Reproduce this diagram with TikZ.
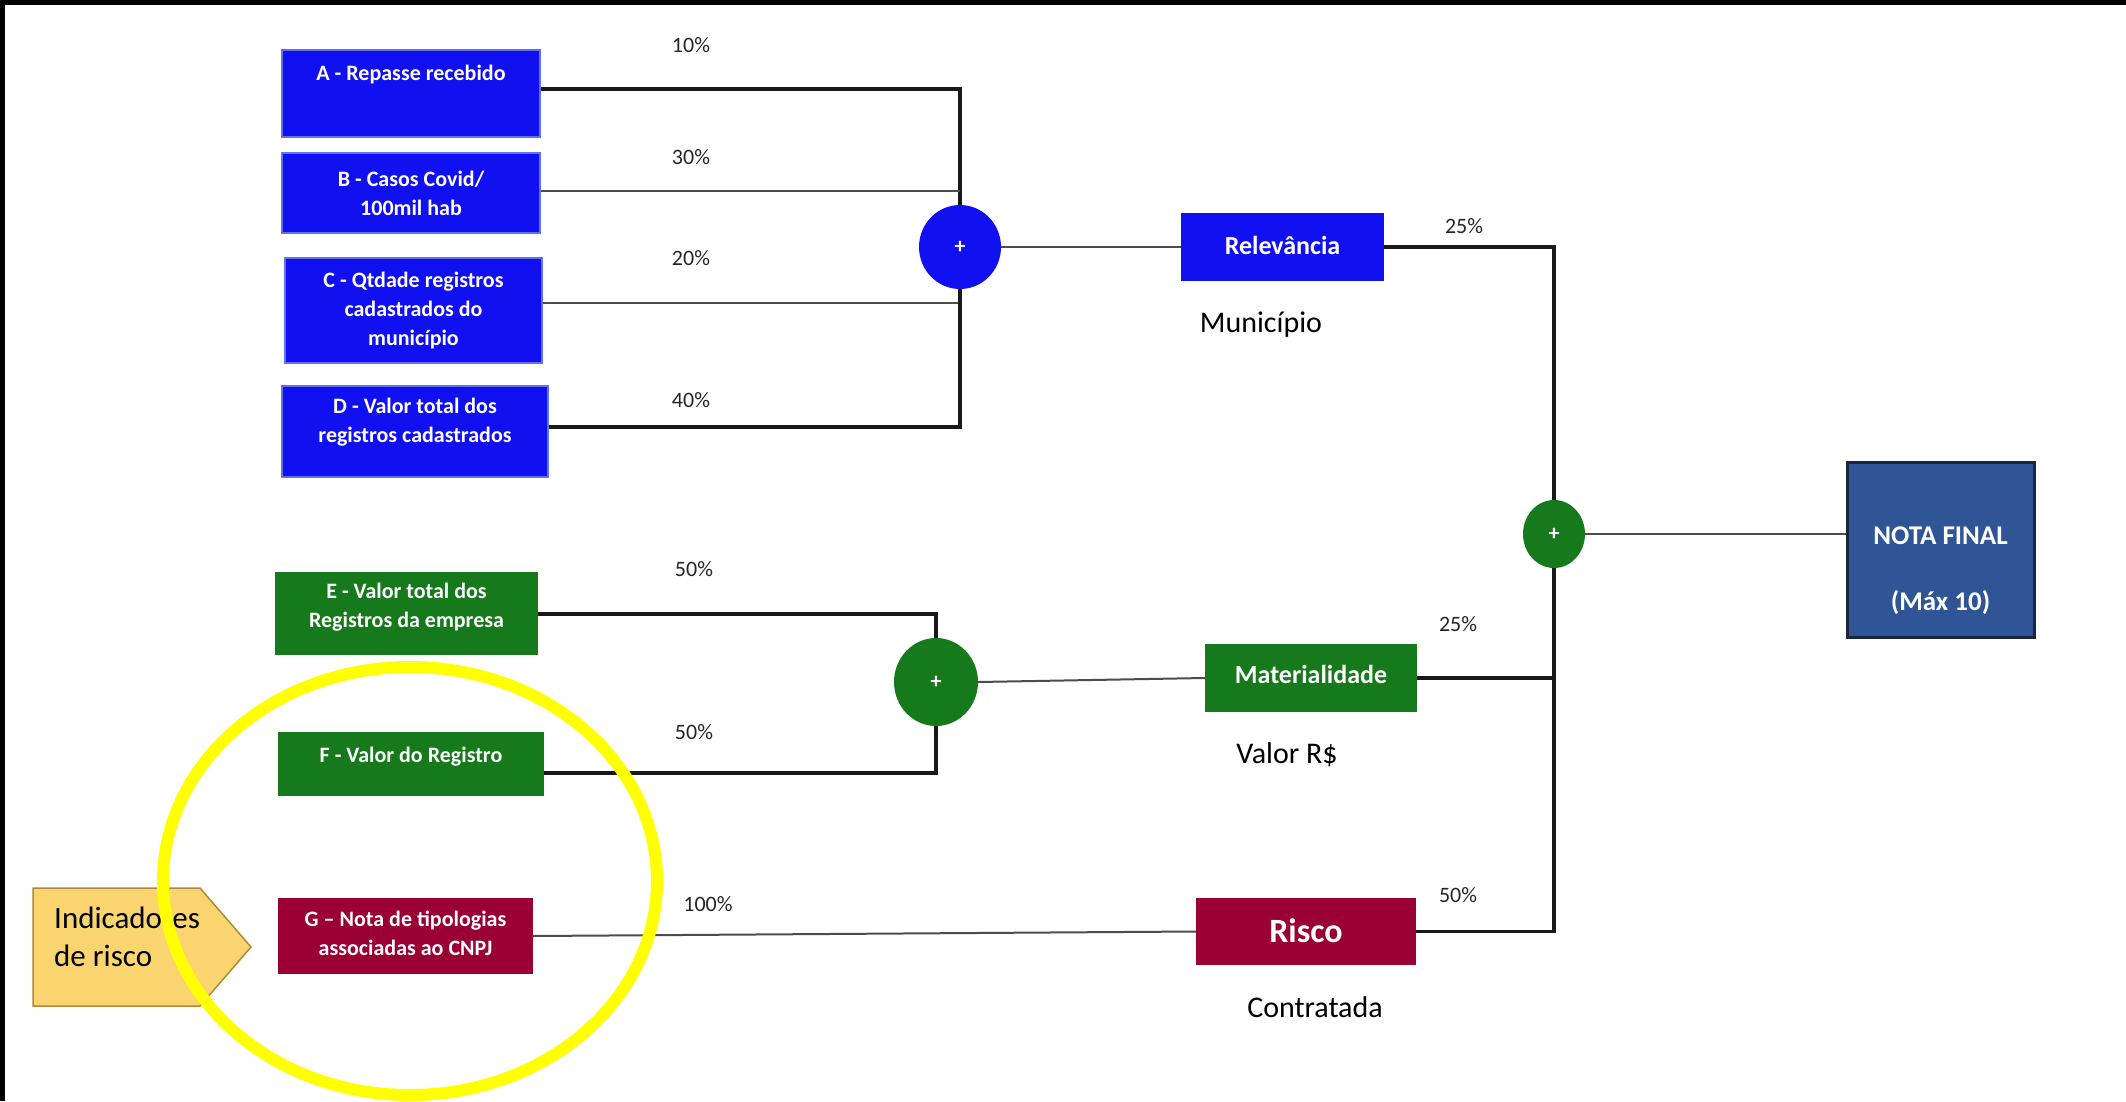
\documentclass[tikz,border=0pt]{standalone}
\usepackage{fontspec}
\setmainfont{Carlito}
\usetikzlibrary{shapes.geometric}
\definecolor{myblue}{RGB}{16,16,240}
\definecolor{myblueedge}{RGB}{95,115,240}
\definecolor{mygreen}{RGB}{22,122,28}
\definecolor{myred}{RGB}{155,0,52}
\definecolor{notablue}{RGB}{47,85,151}
\definecolor{notaedge}{RGB}{28,36,60}
\definecolor{pentfill}{RGB}{250,212,110}
\definecolor{pentedge}{RGB}{176,138,58}
\definecolor{ringyellow}{RGB}{255,255,0}
\definecolor{labelgray}{RGB}{38,38,38}
\begin{document}
\begin{tikzpicture}[x=1pt,y=-1pt,
 box/.style={rectangle, inner sep=0pt},
 bluebox/.style={box, fill=myblue, draw=myblueedge, line width=1.6pt},
 bluebox2/.style={box, fill=myblue},
 greenbox/.style={box, fill=mygreen},
 redbox/.style={box, fill=myred},
 notabox/.style={box, fill=notablue, draw=notaedge, line width=3pt},
 boxtext/.style={text=white, align=center, font=\fontsize{22}{29}\selectfont\bfseries, inner sep=0pt},
 bigtext/.style={text=white, align=center, font=\fontsize{26}{30}\selectfont\bfseries, inner sep=0pt},
 pct/.style={text=labelgray, font=\fontsize{22}{26}\selectfont, inner sep=0pt},
 sublabel/.style={text=black, font=\fontsize{30}{36}\selectfont, inner sep=0pt},
 sumnode/.style={ellipse, inner sep=0pt, text=white, font=\fontsize{22}{22}\selectfont\bfseries},
 thickc/.style={line width=3.2pt, black!90},
 thinc/.style={line width=2pt, black!70},
 pentstyle/.style={fill=pentfill, draw=pentedge, line width=1.5pt},
 ringstyle/.style={draw=ringyellow, line width=12pt},
]
\useasboundingbox (0,0) rectangle (2126,1101);
\fill[white] (0,0) rectangle (2126,1101);
\fill[black] (0,0) rectangle (2126,5);
\fill[black] (0,0) rectangle (5,1101);

% ---- blue inputs
\node[bluebox, minimum width=258pt, minimum height=87pt] (A) at (411,93.5) {};
\node[boxtext] (Atxt) at (411,75) {A - Repasse recebido};
\node[bluebox, minimum width=258pt, minimum height=80pt] (B) at (411,193) {};
\node[boxtext] (Btxt) at (411,193) {B - Casos Covid/\\100mil hab};
\node[bluebox, minimum width=257pt, minimum height=105pt] (C) at (413.5,310.5) {};
\node[boxtext] (Ctxt) at (413.5,311) {C - Qtdade registros\\cadastrados do\\município};
\node[bluebox, minimum width=266pt, minimum height=91pt] (D) at (415,431.5) {};
\node[boxtext] (Dtxt) at (415,422) {D - Valor total dos\\registros cadastrados};

% ---- green inputs
\node[greenbox, minimum width=263pt, minimum height=83pt] (E) at (406.5,613.5) {};
\node[boxtext] (Etxt) at (406.5,607) {E - Valor total dos\\Registros da empresa};
\node[greenbox, minimum width=266pt, minimum height=64pt] (F) at (411,764) {};
\node[boxtext] (Ftxt) at (411,757) {F - Valor do Registro};

% ---- red input
\node[redbox, minimum width=255pt, minimum height=76pt] (G) at (405.5,936) {};
\node[boxtext] (Gtxt) at (405.5,933) {G – Nota de tipologias\\associadas ao CNPJ};

% ---- sums
\node[sumnode, fill=myblue, minimum width=82pt, minimum height=84pt] (sumA) at (960,247) {+};
\node[sumnode, fill=mygreen, minimum width=84pt, minimum height=88pt] (sumB) at (936,682) {+};
\node[sumnode, fill=mygreen, minimum width=62pt, minimum height=68pt] (sumC) at (1554,534) {+};

% ---- middle boxes
\node[bluebox2, minimum width=203pt, minimum height=68pt] (Rel) at (1282.5,247) {};
\node[bigtext] (Reltxt) at (1282.5,245) {Relevância};
\node[greenbox, minimum width=212pt, minimum height=68pt] (Mat) at (1311,678) {};
\node[bigtext] (Mattxt) at (1311,674) {Materialidade};
\node[redbox, minimum width=220pt, minimum height=67pt] (Risco) at (1306,931.5) {};
\node[bigtext, font=\fontsize{34}{40}\selectfont\bfseries] (Riscotxt) at (1306,931) {Risco};

% ---- final
\node[notabox, minimum width=187pt, minimum height=175pt] (Nota) at (1940.5,549.5) {};
\node[bigtext, font=\fontsize{27}{66}\selectfont\bfseries] (Notatxt) at (1940.5,571) {NOTA FINAL\\(Máx 10)};

% ---- sub labels
\node[sublabel] (lmun) at (1261,325) {Município};
\node[sublabel] (lval) at (1287,755) {Valor R\$};
\node[sublabel] (lcon) at (1315,1007) {Contratada};

% ---- percentages
\node[pct] (p10) at (691,45) {10\%};
\node[pct] (p30) at (691,157) {30\%};
\node[pct] (p20) at (691,258) {20\%};
\node[pct] (p40) at (691,400) {40\%};
\node[pct] (p25a) at (1464,226) {25\%};
\node[pct] (p50e) at (694,569) {50\%};
\node[pct] (p50f) at (694,732) {50\%};
\node[pct] (p25b) at (1458,624) {25\%};
\node[pct] (p100) at (708,904) {100\%};
\node[pct] (p50r) at (1458,895) {50\%};

% ---- connectors
\draw[thickc] (A.east |- 0,89) -| (sumA.north);
\draw[thinc] (B.east |- 0,191) -- (sumA.north |- 0,191);
\draw[thinc] (C.east |- 0,303) -- (sumA.north |- 0,303);
\draw[thickc] (D.east |- 0,427) -| (sumA.south);
\draw[thinc] (sumA.east) -- (Rel.west |- sumA.east);
\draw[thickc] (Rel.east) -| (sumC.north);
\draw[thinc] (sumC.east) -- (Nota.west |- sumC.east);
\draw[thickc] (E.east |- 0,614) -| (sumB.north);
\draw[thickc] (F.east |- 0,773) -| (sumB.south);
\draw[thinc] (sumB.east) -- (Mat.west);
\draw[thickc] (Mat.east) -- (sumC.south |- Mat.east);
\draw[thickc] (sumC.south) |- (Risco.east);
\draw[thinc] (G.east) -- (Risco.west);

% ---- indicator callout
\draw[pentstyle] (33,888) -- (200,888) -- (251,947) -- (200,1006) -- (33,1006) -- cycle;
\node[anchor=west, align=left, inner sep=0pt, font=\fontsize{31}{38}\selectfont] (ind) at (54,937) {Indicadores\\de risco};

% ---- highlight ring
\draw[ringstyle] (410,881) ellipse [x radius=247, y radius=214];
\end{tikzpicture}
\end{document}
